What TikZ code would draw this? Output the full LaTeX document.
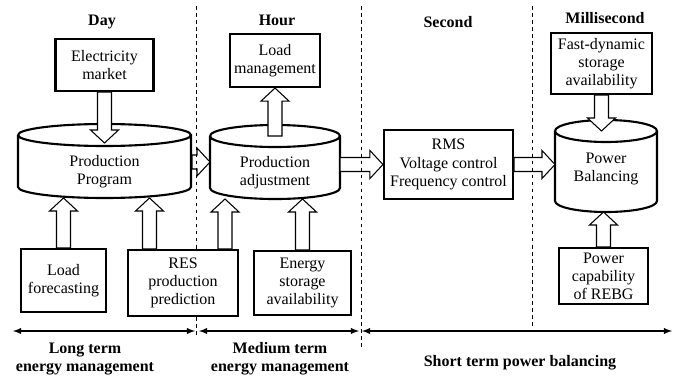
\documentclass[tikz,border=0pt]{standalone}
\usepackage{fontspec}
\setmainfont{Liberation Serif}
\usetikzlibrary{calc}

% #1 node, #2 radius of the ends, #3 extra length below the node
\newcommand{\drum}[3]{%
	\draw[line width=1.2pt] let \p1=(#1.north west), \p2=(#1.south east), \n1={(\x2-\x1)/2} in
	({\x1},{\y1+#2}) arc[start angle=180, end angle=-180, x radius=\n1, y radius=#2]
	({\x1},{\y1+#2}) -- ({\x1},{\y2-#3+#2}) arc[start angle=180, end angle=360, x radius=\n1, y radius=#2]
	-- ({\x2},{\y1+#2});}

\begin{document}
\begin{tikzpicture}[font=\fontsize{9.1}{10.3}\selectfont,
	box/.style={draw, line width=1.2pt, fill=white, align=center, inner sep=1pt},
	cyl/.style={align=center, inner sep=0pt, outer sep=0pt},
	fat/.style={draw, fill=white, line width=0.6pt, to path={
		let \p1=(\tikztostart), \p2=(\tikztotarget),
		\n1={atan2(\y2-\y1,\x2-\x1)}, \n2={veclen(\x2-\x1,\y2-\y1)} in
		($(\p1)+(\n1+90:0.14cm)$) -- ($(\p1)+(\n1:\n2-0.26cm)+(\n1+90:0.14cm)$)
		-- ($(\p1)+(\n1:\n2-0.26cm)+(\n1+90:0.28cm)$) -- (\p2)
		-- ($(\p1)+(\n1:\n2-0.26cm)+(\n1-90:0.28cm)$)
		-- ($(\p1)+(\n1:\n2-0.26cm)+(\n1-90:0.14cm)$)
		-- ($(\p1)+(\n1-90:0.14cm)$) -- cycle}},
	span/.style={<->, >=latex, line width=0.6pt},
	sep/.style={dash pattern=on 2pt off 2pt, line width=0.5pt},
	title/.style={font=\fontsize{9.1}{10.3}\selectfont\bfseries, align=center}]

	\useasboundingbox (0,0) rectangle (13.54,-7.56);

	% time scales
	\node[title, anchor=base] at (2.04,-0.5) (day) {Day};
	\node[title, anchor=base] at (5.54,-0.5) (hour) {Hour};
	\node[title, anchor=base] at (8.96,-0.54) (second) {Second};
	\node[title, anchor=base] at (12.1,-0.46) (msec) {Millisecond};

	% cylinders
	\node[cyl, minimum width=3.46cm, minimum height=1.04cm] at (2.09,-3.44) (pp) {Production\\Program};
	\node[cyl, minimum width=2.6cm, minimum height=1.04cm] at (5.5,-3.46) (pa) {Production\\adjustment};
	\node[cyl, minimum width=2.04cm, minimum height=1.08cm] at (12.12,-3.38) (pb) {Power\\Balancing};
	\drum{pp}{0.22cm}{0cm}
	\drum{pa}{0.22cm}{0cm}
	\drum{pb}{0.22cm}{0.32cm}

	% boxes
	\node[box, minimum width=1.96cm, minimum height=1.04cm] at (2.09,-1.30) (em) {Electricity\\market};
	\node[box, minimum width=1.8cm, minimum height=1.06cm] at (5.5,-1.21) (lm) {Load\\management};
	\node[box, minimum width=2.02cm, minimum height=1.22cm] at (12.03,-1.27) (fd) {Fast-dynamic\\storage\\availability};
	\node[box, minimum width=2.58cm, minimum height=1.38cm] at (8.97,-3.29) (rms) {RMS\\Voltage control\\Frequency control};
	\node[box, minimum width=1.7cm, minimum height=1.26cm] at (1.27,-5.61) (lf) {Load\\forecasting};
	\node[box, minimum width=2.2cm, minimum height=1.32cm] at (3.66,-5.66) (res) {RES\\production\\prediction};
	\node[box, minimum width=1.94cm, minimum height=1.28cm] at (6.05,-5.66) (es) {Energy\\storage\\availability};
	\node[box, minimum width=1.78cm, minimum height=1.12cm] at (12.07,-5.52) (pc) {Power\\capability\\of REBG};

	% block arrows
	\coordinate (c1) at ([yshift=0.06cm]pp.north);
	\coordinate (c2) at ([yshift=0.22cm]pb.north);
	\coordinate (c3) at ([yshift=0.22cm]pa.north);
	\coordinate (c4) at ([yshift=-0.32cm]pb.south);
	\coordinate (c5) at ([xshift=0.02cm, yshift=0.2cm]pp.east);
	\coordinate (r1) at ([xshift=-0.67cm]res.north);
	\coordinate (r2) at ([xshift=0.84cm]res.north);
	\path
	(em.south) edge[fat] (em.south |- c1)
	(c5) edge[fat] (c5 -| pa.west)
	(lm.south |- c3) edge[fat] (lm.south)
	(pa.east |- rms.west) edge[fat] (rms.west)
	(rms.east) edge[fat] (rms.east -| pb.west)
	(fd.south) edge[fat] (fd.south |- c2)
	(pc.north) edge[fat] (pc.north |- c4)
	(lf.north) edge[fat] (lf.north |- pp.south)
	(r1) edge[fat] (r1 |- pp.south)
	(r2) edge[fat] (r2 |- pa.south)
	(es.north) edge[fat] (es.north |- pa.south)
	;

	% separators
	\coordinate (t1) at (3.92,-0.12);
	\coordinate (b1) at (3.92,-6.74);
	\coordinate (t2) at (7.22,-0.12);
	\coordinate (b2) at (7.22,-6.94);
	\coordinate (t3) at (10.64,-0.12);
	\coordinate (b3) at (10.64,-6.56);
	\draw[sep] (t1) -- (t1 |- res.north) (t1 |- res.south) -- (b1);
	\draw[sep] (t2) -- (b2);
	\draw[sep] (t3) -- (b3);

	% horizons
	\coordinate (h1) at (0.26,-6.62);
	\coordinate (h2) at (3.90,-6.62);
	\coordinate (h3) at (3.98,-6.62);
	\coordinate (h4) at (7.18,-6.62);
	\coordinate (h5) at (7.24,-6.62);
	\coordinate (h6) at (13.44,-6.62);
	\draw[span] (h1) -- (h2);
	\draw[span] (h3) -- (h4);
	\draw[span] (h5) -- (h6);

	\node[title] at (1.7,-7.18) (long) {Long term\\energy management};
	\node[title] at (5.6,-7.18) (medium) {Medium term\\energy management};
	\node[title] at (10.4,-7.26) (short) {Short term power balancing};

\end{tikzpicture}
\end{document}
